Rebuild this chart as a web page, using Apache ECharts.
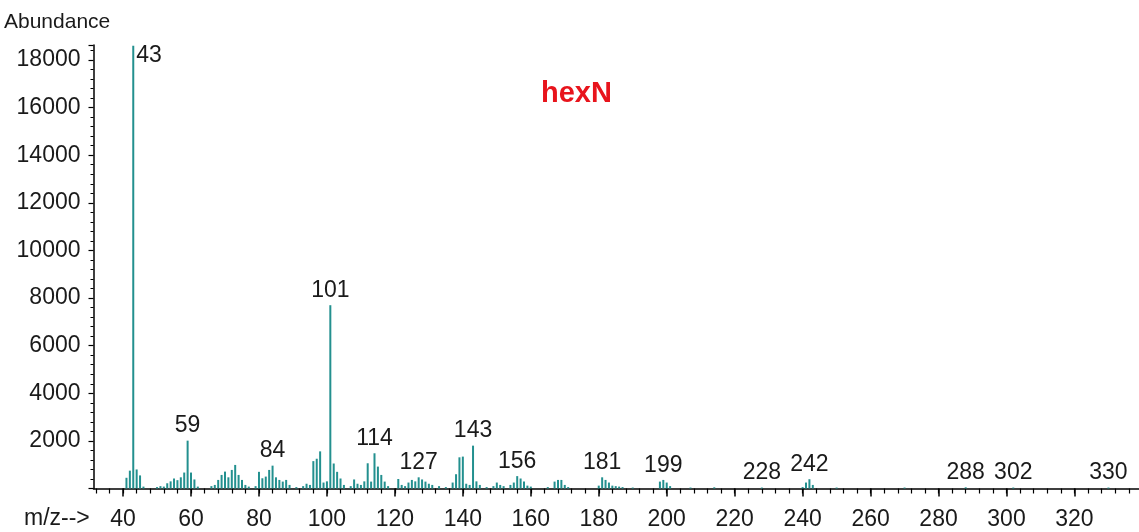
<!DOCTYPE html>
<html>
<head>
<meta charset="utf-8">
<script src="https://cdn.jsdelivr.net/npm/echarts@6/dist/echarts.min.js"></script>
<style>
html,body{margin:0;padding:0;background:#fff;}
#c{width:1139px;height:532px;}
</style>
</head>
<body>
<div id="c"></div>
<script>
// m/z values and abundances
const mz = [41,42,43,44,45,46,50,51,52,53,54,55,56,57,58,59,60,61,62,
  66,67,68,69,70,71,72,73,74,75,76,77,79,80,81,82,83,84,85,86,87,88,89,
  91,93,94,95,96,97,98,99,100,101,102,103,104,105,107,108,109,110,111,112,113,114,115,116,117,118,
  121,122,123,124,125,126,127,128,129,130,131,133,135,137,138,139,140,141,142,143,144,145,
  147,149,150,151,152,154,155,156,157,158,159,160,165,167,168,169,170,171,
  180,181,182,183,184,185,186,187,190,198,199,200,201,207,214,228,240,241,242,243,250,270,288,302,330];
const abundance = [450,750,18600,800,550,80,60,100,80,220,300,420,350,470,670,2010,670,380,80,
  100,150,360,570,710,470,780,990,570,360,150,80,100,700,430,500,780,960,470,360,290,360,150,
  60,100,200,150,1150,1250,1560,250,300,7700,1050,700,420,150,100,380,200,150,300,1060,290,1480,920,570,290,100,
  400,150,100,250,360,300,470,380,290,200,150,100,60,250,600,1310,1340,200,150,1800,300,150,
  60,100,250,150,100,150,250,520,420,290,120,80,60,290,360,360,150,60,
  120,470,360,250,120,100,80,60,40,290,360,250,100,40,50,40,60,250,390,150,40,40,50,40,40];
const labeledPeaks = [43,59,84,101,114,127,143,156,181,199,228,242,288,302,330];
const xLabelValues = [40,60,80,100,120,140,160,180,200,220,240,260,280,300,320];
const xMinorTicks = [32,36,40,44,48,52,56,60,64,68,72,76,80,84,88,92,96,100,104,108,112,116,120,124,128,132,136,140,144,148,152,156,160,164,168,172,176,180,184,188,192,196,200,204,208,212,216,220,224,228,232,236,240,244,248,252,256,260,264,268,272,276,280,284,288,292,296,300,304,308,312,316,320,324,328,332,336];

const FONT = 'Liberation Sans, Arial, sans-serif';
const TXT = '#1a1a1a';
const PEAK = '#23908f';

const data = mz.map((m, i) => {
  const item = {value: [m, abundance[i]]};
  if (labeledPeaks.includes(m)) {
    item.label = m === 43
      ? {show: true, position: [4, -2], align: 'left', verticalAlign: 'top'}
      : {show: true, position: 'top', distance: 3};
  }
  return item;
});

const chart = echarts.init(document.getElementById('c'), null, {renderer: 'canvas'});
chart.setOption({
  animation: false,
  backgroundColor: '#ffffff',
  grid: {left: 93.5, top: 45, right: 0, bottom: 43.5, containLabel: false, outerBoundsMode: 'none'},
  xAxis: [{
    type: 'value', min: 31.3, max: 339,
    axisLine: {show: true, lineStyle: {color: '#000', width: 1.5}},
    axisTick: {show: true, length: 8, inside: false, customValues: xLabelValues, lineStyle: {color: '#000', width: 1.5}},
    axisLabel: {show: true, customValues: xLabelValues, margin: 20, color: TXT, fontSize: 23, fontFamily: FONT},
    splitLine: {show: false}
  }, {
    type: 'value', min: 31.3, max: 339, position: 'bottom',
    axisLine: {show: false},
    axisTick: {show: true, length: 5, customValues: xMinorTicks, lineStyle: {color: '#000', width: 1.2}},
    axisLabel: {show: false},
    splitLine: {show: false}
  }],
  yAxis: {
    type: 'value', min: 0, max: 18630, interval: 2000,
    axisLine: {show: true, lineStyle: {color: '#000', width: 1.5}},
    axisTick: {show: true, length: 5, lineStyle: {color: '#000', width: 1.2}},
    minorTick: {show: true, splitNumber: 5, length: 3, lineStyle: {color: '#000', width: 1}},
    axisLabel: {show: true, showMinLabel: false, showMaxLabel: false, margin: 13, color: TXT, fontSize: 23, fontFamily: FONT,
      formatter: v => String(v)},
    splitLine: {show: false}
  },
  series: [{
    type: 'bar',
    xAxisIndex: 0,
    barWidth: 2,
    itemStyle: {color: PEAK},
    label: {show: false, color: TXT, fontSize: 23, fontFamily: FONT,
      formatter: p => String(p.value[0])},
    data: data
  }],
  graphic: [
    {type: 'text', left: 4, top: 12, style: {text: 'Abundance', font: '21px ' + FONT, fill: TXT}},
    {type: 'text', left: 24, top: 507, style: {text: 'm/z-->', font: '23px ' + FONT, fill: TXT}},
    {type: 'text', left: 541, top: 79, style: {text: 'hexN', font: 'bold 29px ' + FONT, fill: '#e8141c'}}
  ]
});
</script>
</body>
</html>
